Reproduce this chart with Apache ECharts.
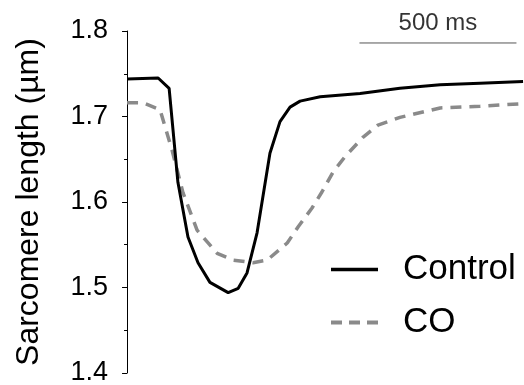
<!DOCTYPE html>
<html>
<head>
    <meta charset="UTF-8">
    <title>Sarcomere length</title>
    <script src="https://cdn.jsdelivr.net/npm/echarts@6/dist/echarts.min.js"></script>
    <style>
        html, body { margin: 0; padding: 0; background: #fff; }
        #chart { width: 524px; height: 385px; }
    </style>
</head>
<body>
    <div id="chart"></div>
    <script>
        // time in ms, sarcomere length in µm
        var controlTime = [0, 99, 134, 162, 194, 226, 264, 322, 354, 382, 414, 455, 487, 519, 551, 615, 742, 869, 997, 1124, 1261];
        var controlLen = [1.744, 1.745, 1.733, 1.623, 1.559, 1.529, 1.506, 1.494, 1.499, 1.517, 1.564, 1.657, 1.694, 1.711, 1.718, 1.723, 1.727, 1.733, 1.737, 1.739, 1.741];
        var coTime = [0, 51, 105, 143, 178, 223, 287, 338, 401, 446, 510, 545, 589, 621, 656, 694, 752, 799, 869, 997, 1124, 1261];
        var coLen = [1.716, 1.716, 1.708, 1.661, 1.611, 1.567, 1.540, 1.532, 1.529, 1.532, 1.552, 1.571, 1.593, 1.612, 1.635, 1.653, 1.676, 1.690, 1.699, 1.710, 1.712, 1.715];
        var scaleBarTime = [740, 1240];
        var scaleBarLen = 1.786;
        var yTicks = [1.4, 1.5, 1.6, 1.7, 1.8];

        function pairs(xs, ys) {
            return xs.map(function (x, i) { return [x, ys[i]]; });
        }

        var chart = echarts.init(document.getElementById('chart'));
        var font = 'Liberation Sans, Arial, sans-serif';

        chart.setOption({
            animation: false,
            grid: { left: 117, right: 0, top: 31, bottom: 12, outerBoundsMode: 'none', containLabel: false },
            xAxis: {
                type: 'value', min: -32, max: 1264, show: false
            },
            yAxis: {
                type: 'value',
                min: yTicks[0], max: yTicks[yTicks.length - 1], interval: 0.1,
                name: 'Sarcomere length (µm)',
                nameLocation: 'middle',
                nameGap: 72,
                nameTextStyle: { fontSize: 32, color: '#000', fontFamily: font },
                axisLine: { show: true, lineStyle: { color: '#000', width: 1 } },
                axisTick: { show: true, length: 5, lineStyle: { color: '#000' } },
                minorTick: { show: true, splitNumber: 2, length: 3, lineStyle: { color: '#000' } },
                splitLine: { show: false },
                axisLabel: {
                    fontSize: 27, color: '#000', fontFamily: font, margin: 9,
                    formatter: function (v) { return v.toFixed(1); }
                }
            },
            legend: {
                orient: 'vertical',
                left: 324, top: 247,
                itemWidth: 47, itemHeight: 35, itemGap: 18,
                itemStyle: { opacity: 0 },
                textStyle: { fontSize: 35, color: '#000', fontFamily: font, padding: [0, 0, 0, 20] },
                data: [
                    { name: 'Control', lineStyle: { width: 3.5, color: '#000' } },
                    { name: 'CO', lineStyle: { width: 4, color: '#8a8a8a', type: [11, 7] } }
                ]
            },
            series: [
                {
                    name: 'Control', type: 'line', showSymbol: false, symbol: 'none',
                    data: pairs(controlTime, controlLen),
                    lineStyle: { color: '#000', width: 3 },
                    itemStyle: { color: '#000' },
                    z: 3
                },
                {
                    name: 'CO', type: 'line', showSymbol: false, symbol: 'none',
                    data: pairs(coTime, coLen),
                    lineStyle: { color: '#8a8a8a', width: 3.5, type: [11, 8] },
                    itemStyle: { color: '#8a8a8a' },
                    z: 2
                },
                {
                    name: 'scale', type: 'line', symbol: 'none', silent: true,
                    data: scaleBarTime.map(function (t) { return [t, scaleBarLen]; }),
                    lineStyle: { color: '#555', width: 1 }
                },
                {
                    name: 'scaleLabel', type: 'scatter', symbolSize: 0, silent: true,
                    data: [[(scaleBarTime[0] + scaleBarTime[1]) / 2, scaleBarLen]],
                    label: {
                        show: true, position: 'top', distance: 8,
                        formatter: '500 ms', fontSize: 24, color: '#000', fontFamily: font
                    }
                }
            ]
        });
    </script>
</body>
</html>
